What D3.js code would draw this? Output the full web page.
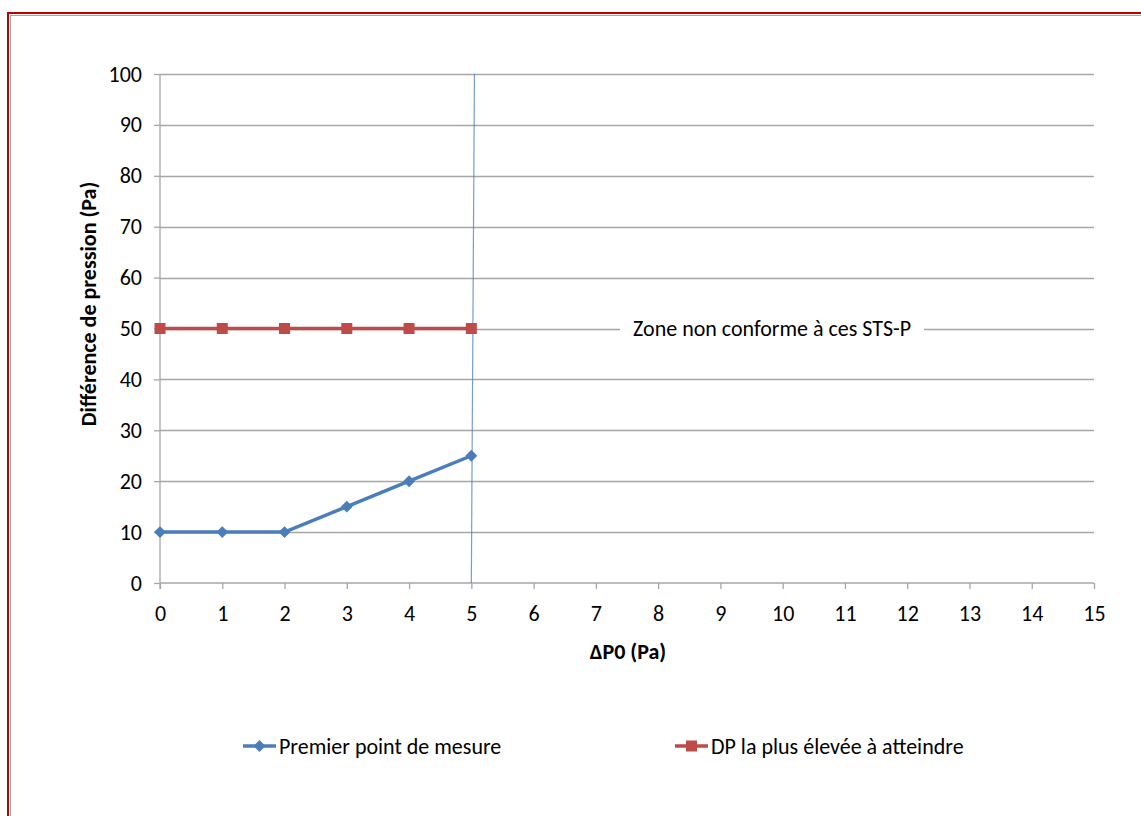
<!DOCTYPE html>
<html><head><meta charset="utf-8">
<script src="https://cdn.jsdelivr.net/npm/d3@7"></script>
<style>
body{margin:0;background:#fff;}
svg{display:block;font-family:Carlito,"Liberation Sans Narrow","Open Sans",sans-serif;}
</style></head><body>
<script>
const xTicks = [0,1,2,3,4,5,6,7,8,9,10,11,12,13,14,15];
const yTicks = [0,10,20,30,40,50,60,70,80,90,100];
const seriesBlueX = [0,1,2,3,4,5];
const seriesBlueY = [10,10,10,15,20,25];
const seriesRedX = [0,1,2,3,4,5];
const seriesRedY = [50,50,50,50,50,50];
const limitX = [5,5.05];
const limitY = [0,100];
const seriesNames = ["Premier point de mesure","DP la plus élevée à atteindre"];
const annotation = "Zone non conforme à ces STS-P";
const annotationX = 9.83, annotationY = 50;

const FS="22px";
const W=1141,H=816;
const svg=d3.select("body").append("svg").attr("width",W).attr("height",H);
svg.append("rect").attr("x",8).attr("y",13).attr("width",W+20).attr("height",H+20).attr("fill","none").attr("stroke","#c00000").attr("stroke-width",2);
svg.append("rect").attr("x",10.5).attr("y",15.5).attr("width",W+20).attr("height",H+20).attr("fill","none").attr("stroke","#a6a6a6").attr("stroke-width",1);

const x=d3.scaleLinear().domain([0,15]).range([160,1094]);
const y=d3.scaleLinear().domain([0,100]).range([583,74]);

const grid="#a6a6a6";
svg.append("g").selectAll("line").data(yTicks.filter(d=>d>0)).join("line")
 .attr("x1",x(0)).attr("x2",x(15)).attr("y1",d=>Math.round(y(d))+0.5).attr("y2",d=>Math.round(y(d))+0.5)
 .attr("stroke",grid).attr("stroke-width",1.3);

const yAxis=svg.append("g").attr("transform",`translate(${x(0)},0)`)
 .call(d3.axisLeft(y).tickValues(yTicks).tickSize(6).tickPadding(12));
const xAxis=svg.append("g").attr("transform",`translate(0,${y(0)})`)
 .call(d3.axisBottom(x).tickValues(xTicks).tickSize(6).tickPadding(16));
[yAxis,xAxis].forEach(a=>{
 a.select(".domain").attr("stroke",grid).attr("stroke-width",1.3);
 a.selectAll(".tick line").attr("stroke",grid).attr("stroke-width",1.3);
 a.selectAll(".tick text").attr("fill","#000").style("font-size",FS).style("font-family",'Carlito,"Liberation Sans Narrow","Open Sans",sans-serif');
});
yAxis.select(".domain").attr("d",`M0,${y(0)+6}V${y(100)}`);
xAxis.select(".domain").attr("d",`M${x(0)},0H${x(15)}`);

const ax=x(annotationX), ay=y(annotationY);
const at=svg.append("text").attr("x",ax).attr("y",ay).attr("dy","0.35em").attr("text-anchor","middle")
 .style("font-size",FS).text(annotation);
const bb=at.node().getBBox();
svg.insert("rect",()=>at.node()).attr("x",bb.x-13).attr("y",bb.y).attr("width",bb.width+26).attr("height",bb.height).attr("fill","#fff");

const lineGen=d3.line().x(d=>x(d[0])).y(d=>y(d[1]));
svg.append("path").datum(d3.zip(limitX,limitY)).attr("d",lineGen).attr("stroke","#4a7ebb").attr("stroke-opacity",0.75).attr("stroke-width",1.2).attr("fill","none");

const blue="#4a7ebb", red="#be4b48";
const bluePts=d3.zip(seriesBlueX,seriesBlueY), redPts=d3.zip(seriesRedX,seriesRedY);
svg.append("path").datum(redPts).attr("d",lineGen).attr("stroke",red).attr("stroke-width",3.5).attr("fill","none");
svg.append("g").selectAll("rect").data(redPts).join("rect")
 .attr("x",d=>x(d[0])-5.5).attr("y",d=>y(d[1])-5.5).attr("width",11).attr("height",11).attr("fill",red);
svg.append("path").datum(bluePts).attr("d",lineGen).attr("stroke",blue).attr("stroke-width",3.5).attr("fill","none");
const diamond=d3.symbol().type(d3.symbolDiamond2).size(90);
svg.append("g").selectAll("path").data(bluePts).join("path")
 .attr("transform",d=>`translate(${x(d[0])},${y(d[1])})`).attr("d",diamond).attr("fill",blue);

svg.append("text").attr("x",628).attr("y",651).attr("dy","0.35em").attr("text-anchor","middle")
 .style("font-size",FS).style("font-weight","bold").text("ΔP0 (Pa)");
svg.append("text").attr("transform","translate(88,304) rotate(-90)").attr("dy","0.35em").attr("text-anchor","middle")
 .style("font-size",FS).style("font-weight","bold").text("Différence de pression (Pa)");

const leg=[{n:seriesNames[0],c:blue,t:"d",x0:243},{n:seriesNames[1],c:red,t:"s",x0:675}];
const ly=746;
leg.forEach(l=>{
 svg.append("line").attr("x1",l.x0).attr("x2",l.x0+33).attr("y1",ly).attr("y2",ly).attr("stroke",l.c).attr("stroke-width",3.5);
 if(l.t==="d") svg.append("path").attr("transform",`translate(${l.x0+16.5},${ly})`).attr("d",diamond).attr("fill",l.c);
 else svg.append("rect").attr("x",l.x0+11).attr("y",ly-5.5).attr("width",11).attr("height",11).attr("fill",l.c);
 svg.append("text").attr("x",l.x0+36).attr("y",ly).attr("dy","0.35em").style("font-size",FS).text(l.n);
});
</script>
</body></html>
